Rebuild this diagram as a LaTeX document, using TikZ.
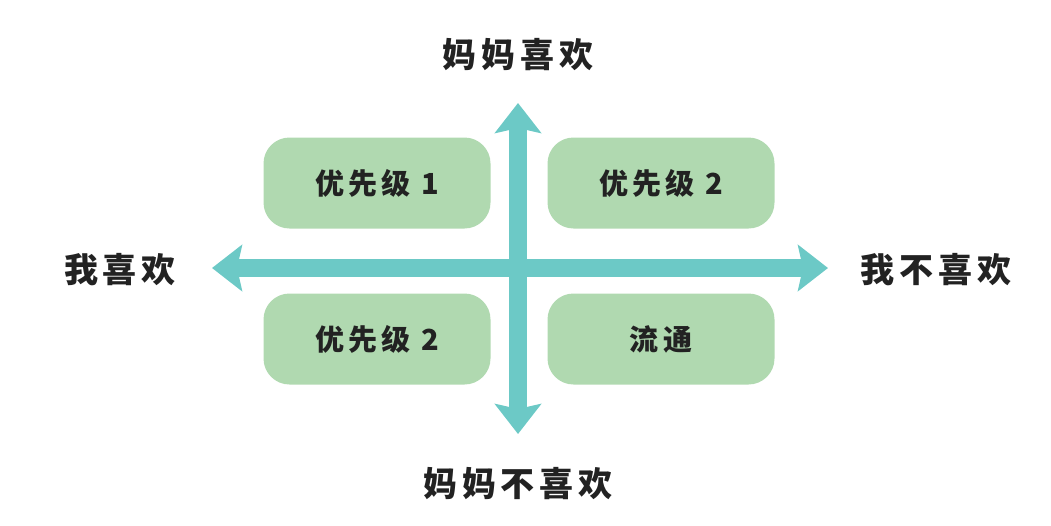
\documentclass[tikz,border=0pt]{standalone}
\usepackage{fontspec}
\newfontfamily\cjk{Noto Sans CJK SC}
\newfontfamily\cjkwide{Noto Sans CJK SC}[LetterSpace=14]
\usetikzlibrary{arrows.meta}
\definecolor{axisteal}{HTML}{6CC9C6}
\definecolor{boxgreen}{HTML}{B0D9B0}
\definecolor{inkgray}{HTML}{222222}

\begin{document}
\begin{tikzpicture}[x=1pt,y=-1pt,
    quad/.style={fill=boxgreen, rounded corners=26pt, minimum width=227pt,
        minimum height=91pt, font=\cjkwide\bfseries\fontsize{29}{32}\selectfont,
        text=inkgray},
    axislabel/.style={font=\cjkwide\bfseries\fontsize{34}{38}\selectfont, text=inkgray},
    axisarrow/.style={draw=axisteal, line width=18pt,
        -{Stealth[length=30pt, width=46pt, inset=5pt]}}]
    \useasboundingbox (0,0) rectangle (1051,525);

    % Axis points
    \coordinate (O) at (518,268);
    \coordinate (top) at (518,103);
    \coordinate (bottom) at (518,434);
    \coordinate (left) at (212,268);
    \coordinate (right) at (828,268);

    % Four quadrants
    \node[quad] (q1) at (377,183) {优先级 1};
    \node[quad] (q2) at (661,183) {优先级 2};
    \node[quad] (q3) at (377,339) {优先级 2};
    \node[quad] (q4) at (661,339) {流通};

    % Axes
    \draw[axisarrow] (O) -- (top);
    \draw[axisarrow] (O) -- (bottom);
    \draw[axisarrow] (O) -- (left);
    \draw[axisarrow] (O) -- (right);

    % Labels
    \node[axislabel] (momyes) at (518,55) {妈妈喜欢};
    \node[axislabel] (momno) at (518,484) {妈妈不喜欢};
    \node[axislabel] (meyes) at (120,270) {我喜欢};
    \node[axislabel] (meno) at (936,270) {我不喜欢};
\end{tikzpicture}
\end{document}
